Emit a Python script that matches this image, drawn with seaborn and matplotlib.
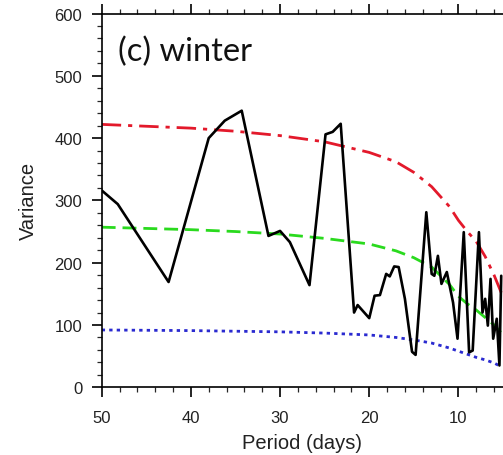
import numpy as np
import pandas as pd
import matplotlib
matplotlib.use("Agg")
import matplotlib.pyplot as plt
import seaborn as sns
from matplotlib.ticker import MultipleLocator

# --- data ---
spec_period = [50, 48.2, 42.5, 38.0, 36.2, 34.3, 31.3, 30.0, 28.9, 26.7, 24.9, 24.1, 23.2,
               21.7, 21.3, 20.0, 19.4, 18.8, 18.1, 17.7, 17.2, 16.7, 16.0, 15.2, 14.8,
               13.6, 13.0, 12.7, 12.3, 11.9, 11.3, 10.6, 10.1, 9.4, 8.8, 8.4, 7.7, 7.3,
               7.0, 6.7, 6.4, 6.1, 5.7, 5.4, 5.2]
spec_value = [316, 294, 169, 400, 428, 444, 243, 251, 233, 164, 406, 410, 423,
              120, 132, 111, 147, 148, 182, 178, 194, 193, 142, 57, 52,
              281, 182, 179, 211, 166, 185, 136, 78, 249, 56, 59, 249, 120,
              142, 99, 174, 78, 110, 35, 179]

red_period = [50, 45, 40, 35, 30, 25, 20, 17, 15, 13, 11, 10, 9, 8, 7, 6, 5.2]
red_value = [422, 419, 416, 411, 404, 394, 377, 362, 345, 322, 290, 268, 250, 234, 210, 180, 152]

green_period = [50, 45, 40, 35, 30, 25, 20, 17, 15, 13, 11, 10, 9, 8, 7, 6, 5.1]
green_value = [257, 255, 253, 250, 246, 239, 230, 219, 208, 193, 165, 146, 134, 124, 112, 100, 86]

blue_period = [50, 40, 30, 25, 20, 17, 15, 13, 11, 10, 9, 8, 7, 6, 5.2]
blue_value = [92, 91, 89, 87, 84, 80, 76, 71, 63, 58, 53, 48, 44, 39, 33]

x_ticks = [50, 40, 30, 20, 10]
y_ticks = [0, 100, 200, 300, 400, 500, 600]

sns.set_style("ticks")
plt.rcParams['font.family'] = ['Liberation Sans', 'DejaVu Sans']

fig = plt.figure(figsize=(5.03, 4.56), dpi=100)
ax = fig.add_axes([0.2022, 0.1485, 0.7978, 0.8197])

spec = pd.DataFrame({"period": spec_period, "value": spec_value})
red = pd.DataFrame({"period": red_period, "value": red_value})
green = pd.DataFrame({"period": green_period, "value": green_value})
blue = pd.DataFrame({"period": blue_period, "value": blue_value})

sns.lineplot(data=red, x="period", y="value", ax=ax, color="#e3192b", lw=2.0,
             sort=False, estimator=None)
ax.lines[-1].set_dashes([7, 2.5, 1.5, 2.5])
sns.lineplot(data=green, x="period", y="value", ax=ax, color="#2ada1e", lw=2.0,
             sort=False, estimator=None)
ax.lines[-1].set_dashes([5, 2.5])
sns.lineplot(data=blue, x="period", y="value", ax=ax, color="#2a2ad0", lw=2.0,
             sort=False, estimator=None)
ax.lines[-1].set_dashes([1.2, 1.5])
sns.lineplot(data=spec, x="period", y="value", ax=ax, color="black", lw=1.9,
             sort=False, estimator=None)

ax.set_xlim(50, 5)
ax.set_ylim(0, 600)
ax.set_xticks(x_ticks)
ax.set_xticklabels([str(t) for t in x_ticks])
ax.set_yticks(y_ticks)
ax.xaxis.set_minor_locator(MultipleLocator(2))
ax.yaxis.set_minor_locator(MultipleLocator(20))
ax.tick_params(axis="both", which="major", direction="out", length=7, width=1.2,
               labelsize=12, color="black", labelcolor="#222222")
ax.tick_params(axis="y", which="major", pad=7)
ax.tick_params(axis="x", which="major", pad=9)
ax.tick_params(axis="both", which="minor", direction="out", length=3.5, width=0.9)
ax.tick_params(axis="x", which="both", top=True)
ax.spines["right"].set_visible(False)
for s in ["left", "bottom", "top"]:
    ax.spines[s].set_linewidth(1.2)
    ax.spines[s].set_color("black")

ax.set_xlabel("Period (days)", fontsize=14.5, color="#222222", labelpad=6)
ax.set_ylabel("Variance", fontsize=14.5, color="#222222", labelpad=12)

ax.text(0.04, 0.9, "(c) winter", transform=ax.transAxes, fontsize=23.5,
        family=["Lato", "DejaVu Sans"], va="center", ha="left", color="#111111")

fig.savefig("out.png", dpi=100)
